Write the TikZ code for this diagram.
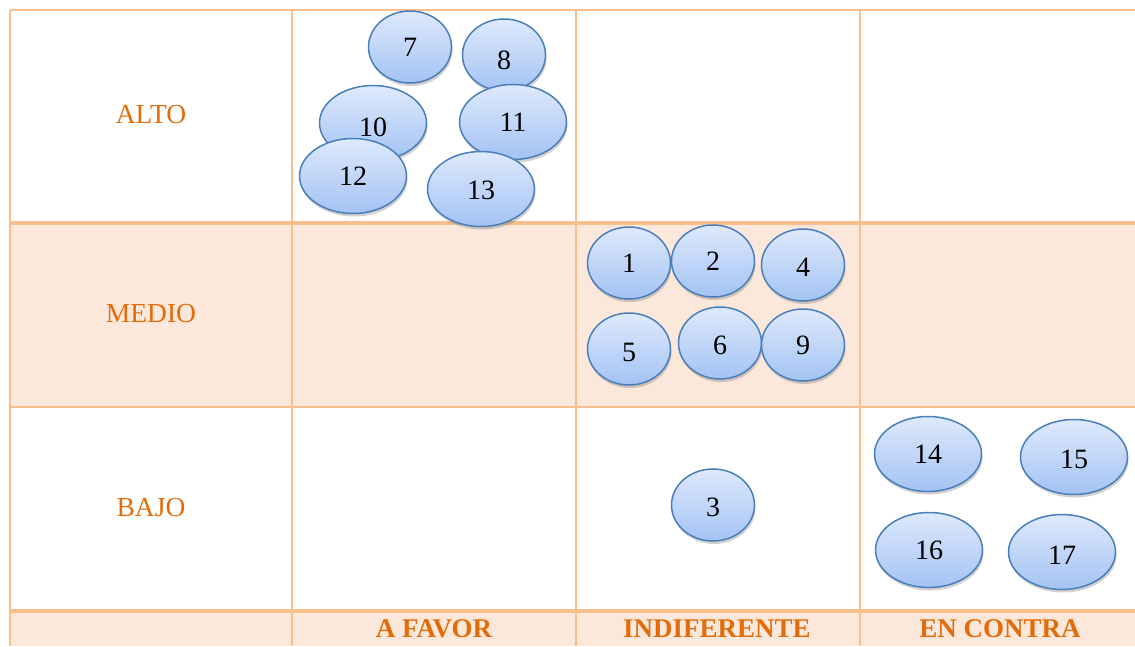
\documentclass[tikz,border=0pt]{standalone}
\usepackage{fontspec}
\setmainfont{Liberation Serif}
\usetikzlibrary{shapes.geometric,shadows}
\definecolor{gridline}{HTML}{F9BF8F}
\definecolor{rowfill}{HTML}{FBE8DA}
\definecolor{labelorange}{HTML}{E36C0A}
\definecolor{ellborder}{HTML}{4A7EBB}
\definecolor{elltop}{HTML}{DEE9FC}
\definecolor{ellbot}{HTML}{A3C3F4}
\newcommand{\dnshift}[2]{\raisebox{-#1}[\height][0pt]{#2}}
\begin{document}
\begin{tikzpicture}[x=1pt,y=-1pt,
  bub/.style={ellipse, draw=ellborder, line width=1.5pt, top color=elltop, bottom color=ellbot,
    inner sep=0pt, minimum width=83pt, minimum height=72pt, font=\fontsize{28}{32}\selectfont,
    drop shadow={shadow xshift=1pt, shadow yshift=-3pt, opacity=0.3, fill=black!60}},
  big/.style={minimum width=107pt, minimum height=75pt},
  rowlab/.style={font=\fontsize{27.5}{32}\selectfont, text=labelorange},
  collab/.style={font=\bfseries\fontsize{27}{32}\selectfont, text=labelorange},
  gl/.style={draw=gridline, line width=2pt},
  glthick/.style={draw=gridline, line width=3.5pt}]
\useasboundingbox (0,0) rectangle (1135,646);
% row fills
\fill[rowfill] (10,223) rectangle (1135,407);
\fill[rowfill] (10,611) rectangle (1135,646);
% grid lines
\foreach \x in {10,292,576,860} \draw[gl] (\x,10) -- (\x,646);
\draw[gl] (10,10) -- (1135,10);
\draw[glthick] (10,223) -- (1135,223);
\draw[gl] (10,407) -- (1135,407);
\draw[glthick] (10,611) -- (1135,611);
% row labels
\node[rowlab] (alto) at (151,115) {ALTO};
\node[rowlab] (medio) at (151,314) {MEDIO};
\node[rowlab] (bajo) at (151,508) {BAJO};
% column labels
\node[collab] (afavor) at (434,629) {A FAVOR};
\node[collab] (indif) at (717,629) {INDIFERENTE};
\node[collab] (encontra) at (1000,629) {EN CONTRA};
% ALTO / A FAVOR
\node[bub] (n7) at (410,47) {7};
\node[bub] (n8) at (504,55) {\dnshift{5pt}{8}};
\node[bub,big] (n10) at (373,123) {\dnshift{4pt}{10}};
\node[bub,big] (n11) at (513,122) {11};
\node[bub,big] (n12) at (353,176) {12};
\node[bub,big] (n13) at (481,189) {\dnshift{1pt}{13}};
% MEDIO / INDIFERENTE
\node[bub] (n1) at (629,263) {1};
\node[bub] (n2) at (713,261) {2};
\node[bub] (n4) at (803,265) {\dnshift{2pt}{4}};
\node[bub] (n5) at (629,349) {\dnshift{3pt}{5}};
\node[bub] (n6) at (720,343) {\dnshift{2pt}{6}};
\node[bub] (n9) at (803,345) {9};
% BAJO / INDIFERENTE
\node[bub] (n3) at (713,505) {\dnshift{2pt}{3}};
% BAJO / EN CONTRA
\node[bub,big] (n14) at (928,454) {14};
\node[bub,big] (n15) at (1074,457) {\dnshift{2pt}{15}};
\node[bub,big] (n16) at (929,550) {16};
\node[bub,big] (n17) at (1062,552) {\dnshift{3pt}{17}};
\end{tikzpicture}
\end{document}
